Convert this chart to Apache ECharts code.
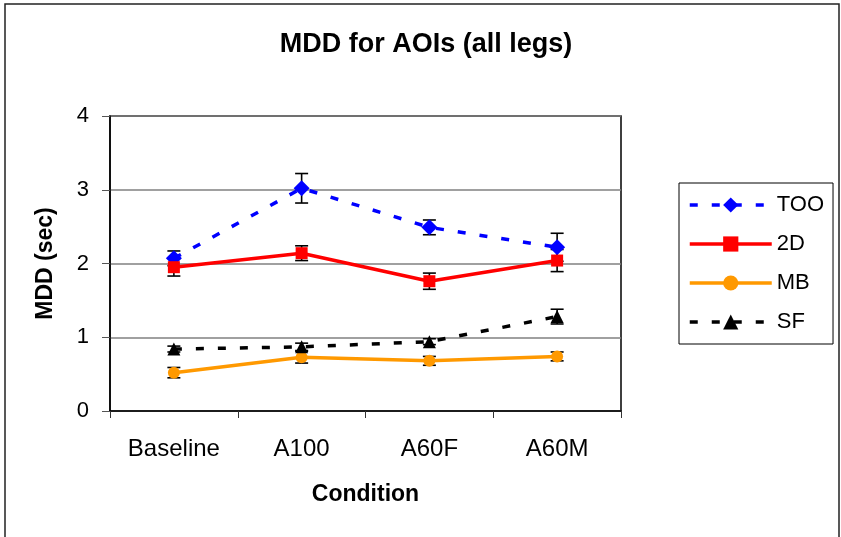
<!DOCTYPE html>
<html>
<head>
<meta charset="utf-8">
<script src="https://cdn.jsdelivr.net/npm/echarts@6/dist/echarts.min.js"></script>
<style>
  html, body { margin: 0; padding: 0; background: #fff; }
  #chart { width: 841px; height: 537px; }
</style>
</head>
<body>
<div id="chart"></div>
<script>
  // data
  const categories = ['Baseline', 'A100', 'A60F', 'A60M'];
  const yTicks = [0, 1, 2, 3, 4];
  const tooValues = [2.07, 3.02, 2.49, 2.22];
  const tooErr = [0.10, 0.20, 0.10, 0.19];
  const d2Values = [1.95, 2.14, 1.76, 2.04];
  const d2Err = [0.12, 0.10, 0.11, 0.15];
  const mbValues = [0.52, 0.73, 0.68, 0.74];
  const mbErr = [0.07, 0.08, 0.06, 0.06];
  const sfValues = [0.84, 0.87, 0.94, 1.28];
  const sfErr = [0.04, 0.05, 0.04, 0.10];

  const font = '"Liberation Sans", Arial, sans-serif';

  // error bars as custom series (vertical line + caps)
  function errorBars(values, errs) {
    return {
      type: 'custom',
      z: 3,
      silent: true,
      data: values.map(function (v, i) { return [i, v, errs[i]]; }),
      encode: { x: 0, y: 1 },
      renderItem: function (params, api) {
        const i = api.value(0), v = api.value(1), e = api.value(2);
        const top = api.coord([i, v + e]);
        const bot = api.coord([i, v - e]);
        const w = 6.5;
        const style = { stroke: '#000', lineWidth: 1.6 };
        return {
          type: 'group',
          children: [
            { type: 'line', shape: { x1: top[0], y1: top[1], x2: bot[0], y2: bot[1] }, style: style },
            { type: 'line', shape: { x1: top[0] - w, y1: top[1], x2: top[0] + w, y2: top[1] }, style: style },
            { type: 'line', shape: { x1: bot[0] - w, y1: bot[1], x2: bot[0] + w, y2: bot[1] }, style: style }
          ]
        };
      }
    };
  }

  function lineSeries(name, values, color, symbol, size, dashed) {
    return {
      name: name,
      type: 'line',
      z: 4,
      data: values,
      symbol: symbol,
      symbolSize: size,
      itemStyle: { color: color },
      lineStyle: { color: color, width: 3.5, type: dashed ? [8, 14] : 'solid' }
    };
  }

  let myChart = echarts.init(document.getElementById('chart'));
  myChart.setOption({
    animation: false,
    textStyle: { fontFamily: font, color: '#000' },
    title: {
      text: 'MDD for AOIs (all legs)',
      left: 421,
      textAlign: 'center',
      top: 26,
      textStyle: { fontSize: 27, fontWeight: 'bold', fontFamily: font, color: '#000' }
    },
    grid: {
      left: 110, right: 220, top: 116, bottom: 126,
      show: true, borderColor: '#000', borderWidth: 1.5
    },
    legend: {
      orient: 'vertical',
      left: 679,
      top: 183,
      padding: [11, 9, 11, 9],
      itemWidth: 82,
      itemHeight: 19,
      itemGap: 17,
      borderColor: '#000',
      borderWidth: 1,
      lineStyle: { width: 3.5 },
      textStyle: { fontSize: 22, lineHeight: 22, fontFamily: font, color: '#000' },
      data: ['TOO', '2D', 'MB', 'SF']
    },
    xAxis: {
      type: 'category',
      data: categories,
      name: 'Condition',
      nameLocation: 'middle',
      nameGap: 72,
      nameTextStyle: { fontSize: 23, fontWeight: 'bold', fontFamily: font, color: '#000' },
      axisLine: { lineStyle: { color: '#000', width: 1.5 } },
      axisTick: { show: true, length: 7, lineStyle: { color: '#333' } },
      axisLabel: { fontSize: 24, margin: 26, color: '#000', fontFamily: font }
    },
    yAxis: {
      type: 'value',
      min: yTicks[0],
      max: yTicks[yTicks.length - 1],
      interval: 1,
      name: 'MDD (sec)',
      nameLocation: 'middle',
      nameGap: 53,
      nameRotate: 90,
      nameTextStyle: { fontSize: 23, fontWeight: 'bold', fontFamily: font, color: '#000' },
      axisLine: { show: true, lineStyle: { color: '#000', width: 1.5 } },
      axisTick: { show: true, length: 8, lineStyle: { color: '#555' } },
      axisLabel: { fontSize: 22, margin: 21, color: '#000', fontFamily: font },
      splitLine: { lineStyle: { color: '#808080', width: 1.5 } }
    },
    graphic: [
      {
        type: 'rect',
        shape: { x: 5, y: 4, width: 834, height: 540 },
        style: { fill: null, stroke: '#222', lineWidth: 1.5 },
        silent: true
      }
    ],
    series: [
      errorBars(tooValues, tooErr),
      errorBars(d2Values, d2Err),
      errorBars(mbValues, mbErr),
      errorBars(sfValues, sfErr),
      lineSeries('TOO', tooValues, '#0000FF', 'diamond', 16, true),
      lineSeries('2D', d2Values, '#FF0000', 'rect', 12, false),
      lineSeries('MB', mbValues, '#FF9900', 'circle', 12, false),
      lineSeries('SF', sfValues, '#000000', 'triangle', 13, true)
    ]
  });
</script>
</body>
</html>
